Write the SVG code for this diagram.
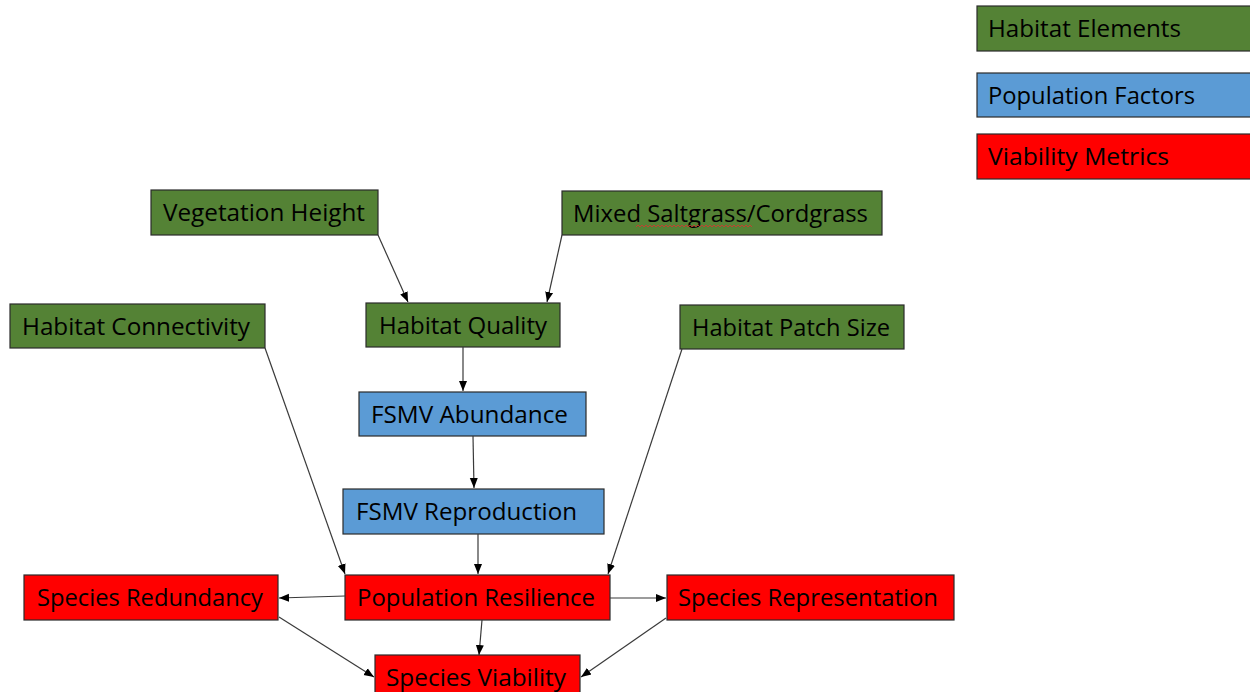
<svg xmlns="http://www.w3.org/2000/svg" width="1250" height="692" viewBox="0 0 1250 692">
<style>
.box{stroke:#2b2b2b;stroke-width:1.2}
.g{fill:#548235}
.b{fill:#5b9bd5}
.r{fill:#ff0000}
text{font-family:"Open Sans","Noto Sans",sans-serif;font-size:24px;fill:#000}
.c line{stroke:#3a3a3a;stroke-width:1.2;marker-end:url(#ah)}
</style>
<defs>
<marker id="ah" viewBox="0 0 10 10" refX="10" refY="5" markerWidth="10" markerHeight="10" markerUnits="userSpaceOnUse" orient="auto">
<path d="M0,1 L10,5 L0,9 z" fill="#000"/>
</marker>
</defs>
<rect width="1250" height="692" fill="#fff"/>

<g id="legend-habitat"><rect class="box g" x="977" y="6" width="300" height="45"/><text x="988" y="37" textLength="193" lengthAdjust="spacingAndGlyphs">Habitat Elements</text></g>
<g id="legend-population"><rect class="box b" x="977" y="73" width="300" height="44"/><text x="988" y="104" textLength="207" lengthAdjust="spacingAndGlyphs">Population Factors</text></g>
<g id="legend-viability"><rect class="box r" x="977" y="134" width="300" height="45"/><text x="988" y="165" textLength="181" lengthAdjust="spacingAndGlyphs">Viability Metrics</text></g>

<g id="vegetation-height"><rect class="box g" x="151" y="190" width="227" height="45"/><text x="163" y="221" textLength="202" lengthAdjust="spacingAndGlyphs">Vegetation Height</text></g>
<g id="mixed-saltgrass"><rect class="box g" x="562" y="191" width="320" height="44"/><text x="573" y="222" textLength="295" lengthAdjust="spacingAndGlyphs">Mixed Saltgrass/Cordgrass</text><path d="M636,227 l2,-2 l2,2 l2,-2 l2,2 l2,-2 l2,2 l2,-2 l2,2 l2,-2 l2,2 l2,-2 l2,2 l2,-2 l2,2 l2,-2 l2,2 l2,-2 l2,2 l2,-2 l2,2 l2,-2 l2,2 l2,-2 l2,2 l2,-2 l2,2 l2,-2 l2,2 l2,-2 l2,2 l2,-2 l2,2 l2,-2 l2,2 l2,-2 l2,2 l2,-2 l2,2 l2,-2 l2,2 l2,-2 l2,2 l2,-2 l2,2 l2,-2 l2,2 l2,-2 l2,2 l2,-2 l2,2 l2,-2 l2,2 l2,-2 l2,2 l2,-2 l2,2 l2,-2 l2,2" fill="none" stroke="#e03030" stroke-width="0.8"/></g>
<g id="habitat-connectivity"><rect class="box g" x="10" y="304" width="255" height="44"/><text x="22" y="335" textLength="228" lengthAdjust="spacingAndGlyphs">Habitat Connectivity</text></g>
<g id="habitat-quality"><rect class="box g" x="366" y="303" width="194" height="44"/><text x="379" y="334" textLength="168" lengthAdjust="spacingAndGlyphs">Habitat Quality</text></g>
<g id="habitat-patch-size"><rect class="box g" x="680" y="305" width="224" height="44"/><text x="692" y="336" textLength="198" lengthAdjust="spacingAndGlyphs">Habitat Patch Size</text></g>
<g id="fsmv-abundance"><rect class="box b" x="359" y="392" width="227" height="44"/><text x="371" y="423" textLength="197" lengthAdjust="spacingAndGlyphs">FSMV Abundance</text></g>
<g id="fsmv-reproduction"><rect class="box b" x="343" y="489" width="261" height="45"/><text x="356" y="520" textLength="221" lengthAdjust="spacingAndGlyphs">FSMV Reproduction</text></g>
<g id="population-resilience"><rect class="box r" x="345" y="575" width="265" height="45"/><text x="357" y="606" textLength="238" lengthAdjust="spacingAndGlyphs">Population Resilience</text></g>
<g id="species-redundancy"><rect class="box r" x="24" y="575" width="254" height="45"/><text x="37" y="606" textLength="226" lengthAdjust="spacingAndGlyphs">Species Redundancy</text></g>
<g id="species-representation"><rect class="box r" x="667" y="575" width="287" height="45"/><text x="678" y="606" textLength="260" lengthAdjust="spacingAndGlyphs">Species Representation</text></g>
<g id="species-viability"><rect class="box r" x="375" y="655" width="205" height="45"/><text x="386" y="686" textLength="180" lengthAdjust="spacingAndGlyphs">Species Viability</text></g>

<g id="connectors" class="c">
<line x1="378" y1="235" x2="408" y2="302"/>
<line x1="562" y1="235" x2="547" y2="302"/>
<line x1="463" y1="347" x2="463" y2="391"/>
<line x1="473" y1="436" x2="474" y2="488"/>
<line x1="478" y1="534" x2="478" y2="574"/>
<line x1="265" y1="348" x2="345" y2="574"/>
<line x1="682" y1="349" x2="608" y2="574"/>
<line x1="345" y1="596" x2="279" y2="598"/>
<line x1="610" y1="598" x2="666" y2="598"/>
<line x1="482" y1="620" x2="479" y2="655"/>
<line x1="279" y1="617" x2="374" y2="677"/>
<line x1="666" y1="618" x2="581" y2="677"/>
</g>
</svg>
